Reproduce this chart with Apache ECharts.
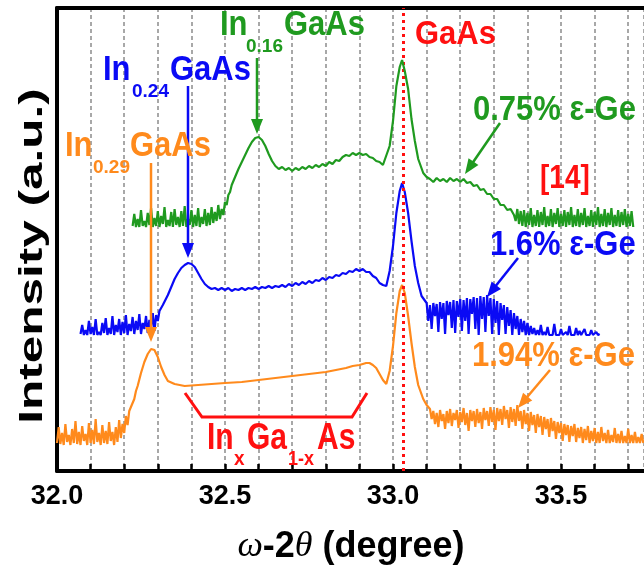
<!DOCTYPE html>
<html><head><meta charset="utf-8">
<script src="https://cdn.jsdelivr.net/npm/echarts@6/dist/echarts.min.js"></script>
<style>html,body{margin:0;padding:0;background:#fff}#c{width:644px;height:572px}</style>
</head><body><div id="c"></div>
<script>
const tickLabels = ['32.0', '32.5', '33.0', '33.5'];
const gaasPosition = 33.027;

const orange = [
[32.000,28],[32.005,44],[32.010,27],[32.015,38],[32.020,26],[32.025,47],[32.030,29],[32.035,36],[32.040,26],[32.045,42],
[32.050,28],[32.055,50],[32.060,27],[32.065,39],[32.070,26],[32.075,45],[32.080,30],[32.085,37],[32.090,26],[32.095,48],
[32.100,28],[32.105,41],[32.110,27],[32.115,52],[32.120,29],[32.125,38],[32.130,26],[32.135,46],[32.140,28],[32.145,40],
[32.150,27],[32.155,49],[32.160,30],[32.165,39],[32.170,26],[32.175,44],[32.180,29],[32.185,51],[32.190,33],[32.195,47],
[32.200,38],[32.205,55],[32.210,46],[32.215,60],[32.22,62],[32.225,68],[32.23,72],[32.235,80],[32.24,85],[32.25,98],
[32.26,109],[32.27,117],[32.28,122],[32.285,123],[32.29,121],[32.30,114],[32.31,104],[32.32,96],[32.33,90],[32.35,87],
[32.38,85],[32.42,86],[32.46,87],[32.50,88],[32.55,89],[32.60,91],[32.65,93],[32.70,95],[32.75,97],[32.80,99],
[32.83,101],[32.86,103],[32.88,105],[32.90,106],[32.92,108],[32.93,108],[32.94,106],[32.95,103],[32.96,97],[32.97,91],
[32.98,87],[32.99,100],[33.00,125],[33.01,158],[33.02,180],[33.027,186],[33.035,178],[33.045,155],[33.055,128],[33.065,104],
[33.075,86],[33.09,72],[33.10,66],[33.11,62],
[33.115,52],[33.12,60],[33.125,47],[33.13,58],[33.135,44],[33.14,61],[33.145,50],[33.15,57],[33.155,42],[33.16,60],
[33.165,48],[33.17,62],[33.175,45],[33.18,58],[33.185,51],[33.19,61],[33.195,43],[33.20,59],[33.205,49],[33.21,63],
[33.215,46],[33.22,58],[33.225,40],[33.23,61],[33.235,50],[33.24,60],[33.245,44],[33.25,62],[33.255,48],[33.26,59],
[33.265,42],[33.27,63],[33.275,51],[33.28,60],[33.285,45],[33.29,64],[33.295,49],[33.30,61],[33.305,41],[33.31,63],
[33.315,50],[33.32,62],[33.325,46],[33.33,65],[33.335,52],[33.34,61],[33.345,43],[33.35,64],[33.355,49],[33.36,62],
[33.365,45],[33.37,66],[33.375,50],[33.38,60],[33.385,42],[33.39,61],[33.395,47],[33.40,58],[33.405,40],[33.41,59],
[33.415,46],[33.42,56],[33.425,38],[33.43,57],[33.435,44],[33.44,55],[33.445,36],[33.45,54],[33.455,42],[33.46,52],
[33.465,34],[33.47,53],[33.475,40],[33.48,50],[33.485,32],[33.49,49],[33.495,38],[33.50,48],[33.505,30],[33.51,47],
[33.515,36],[33.52,46],[33.525,29],[33.53,45],[33.535,35],[33.54,47],[33.545,29],[33.55,43],[33.555,33],[33.56,44],
[33.565,28],[33.57,42],[33.575,31],[33.58,45],[33.585,28],[33.59,40],[33.595,30],[33.60,43],[33.605,28],[33.61,39],
[33.615,28],[33.62,44],[33.625,30],[33.63,38],[33.635,28],[33.64,41],[33.645,28],[33.65,36],[33.655,29],[33.66,43],
[33.665,28],[33.67,37],[33.675,28],[33.68,40],[33.685,28],[33.69,35],[33.695,28],[33.70,42],[33.705,28],[33.71,36],
[33.715,28],[33.72,39],[33.725,28],[33.73,34],[33.735,28],[33.74,37],[33.745,28]
];

const blue = [
[32.07,137],[32.075,146],[32.08,136],[32.085,141],[32.09,136],[32.095,150],[32.10,137],[32.105,144],[32.11,136],[32.115,152],
[32.12,136],[32.125,139],[32.13,136],[32.135,148],[32.14,138],[32.145,153],[32.15,136],[32.155,143],[32.16,137],[32.165,155],
[32.17,136],[32.175,146],[32.18,139],[32.185,152],[32.19,136],[32.195,149],[32.20,138],[32.205,156],[32.21,136],[32.215,147],
[32.22,140],[32.225,154],[32.23,137],[32.235,150],[32.24,141],[32.245,157],[32.25,137],[32.255,148],[32.26,142],[32.265,155],
[32.27,138],[32.275,151],[32.28,143],[32.285,158],[32.29,140],[32.295,156],[32.30,150],[32.305,160],[32.31,158],[32.315,166],
[32.32,166],[32.33,176],[32.34,184],[32.35,192],[32.36,198],[32.37,203],[32.38,206],[32.39,208],[32.40,207],[32.41,204],
[32.42,198],[32.43,192],[32.44,187],[32.45,184],[32.46,182],[32.47,183],[32.48,181],[32.49,183],[32.50,181],[32.51,183],
[32.52,180],[32.53,182],[32.54,181],[32.55,183],[32.56,181],[32.57,183],[32.58,182],[32.59,184],[32.60,182],[32.61,184],
[32.62,183],[32.63,185],[32.64,183],[32.65,185],[32.66,184],[32.67,186],[32.68,184],[32.69,187],[32.70,185],[32.71,188],
[32.72,186],[32.73,189],[32.74,187],[32.75,190],[32.76,188],[32.77,191],[32.78,190],[32.79,193],[32.80,191],[32.81,194],
[32.82,193],[32.83,196],[32.84,195],[32.85,198],[32.86,197],[32.87,200],[32.88,199],[32.89,202],[32.90,200],[32.91,202],
[32.92,199],[32.93,199],[32.94,195],[32.95,193],[32.96,188],[32.97,186],[32.98,185],[32.99,200],[33.00,225],[33.01,258],
[33.02,280],[33.027,288],[33.035,279],[33.045,258],[33.055,230],[33.065,205],[33.075,188],[33.085,175],[33.10,168],
[33.105,150],[33.11,166],[33.115,142],[33.12,168],[33.125,155],[33.13,167],[33.135,139],[33.14,169],[33.145,152],[33.15,168],
[33.155,137],[33.16,170],[33.165,156],[33.17,169],[33.175,143],[33.18,171],[33.185,138],[33.19,170],[33.195,154],[33.20,172],
[33.205,140],[33.21,171],[33.215,150],[33.22,173],[33.225,137],[33.23,172],[33.235,157],[33.24,174],[33.245,142],[33.25,173],
[33.255,136],[33.26,175],[33.265,152],[33.27,174],[33.275,139],[33.28,176],[33.285,155],[33.29,173],[33.295,137],[33.30,172],
[33.305,148],[33.31,170],[33.315,136],[33.32,168],[33.325,151],[33.33,166],[33.335,137],[33.34,164],[33.345,145],[33.35,161],
[33.355,136],[33.36,158],[33.365,142],[33.37,155],[33.375,136],[33.38,152],[33.385,139],[33.39,150],[33.395,136],[33.40,148],
[33.405,136],[33.41,145],[33.415,137],[33.42,143],[33.425,136],[33.43,141],[33.435,136],[33.44,146],[33.445,136],[33.45,139],
[33.455,136],[33.46,144],[33.465,136],[33.47,138],[33.475,136],[33.48,147],[33.485,136],[33.49,137],[33.495,136],[33.50,142],
[33.505,136],[33.51,136],[33.515,139],[33.52,136],[33.525,145],[33.53,136],[33.535,137],[33.54,136],[33.545,143],[33.55,136],
[33.555,140],[33.56,136],[33.565,136],[33.57,142],[33.575,136],[33.58,138],[33.585,136],[33.59,141],[33.595,136],[33.60,136],
[33.605,139],[33.61,136],[33.615,137]
];

const green = [
[32.225,245],[32.23,257],[32.235,244],[32.24,252],[32.245,244],[32.25,261],[32.255,245],[32.26,250],[32.265,244],[32.27,258],
[32.275,246],[32.28,263],[32.285,244],[32.29,253],[32.295,245],[32.30,260],[32.305,244],[32.31,255],[32.315,247],[32.32,264],
[32.325,244],[32.33,251],[32.335,245],[32.34,259],[32.345,244],[32.35,262],[32.355,246],[32.36,254],[32.365,244],[32.37,260],
[32.375,245],[32.38,265],[32.385,244],[32.39,252],[32.395,246],[32.40,261],[32.405,244],[32.41,256],[32.415,245],[32.42,263],
[32.425,244],[32.43,254],[32.435,247],[32.44,262],[32.445,245],[32.45,258],[32.455,246],[32.46,264],[32.465,248],[32.47,259],
[32.475,250],[32.48,266],[32.485,252],[32.49,262],[32.495,256],[32.50,269],[32.505,266],[32.51,276],[32.515,279],[32.52,286],
[32.53,294],[32.54,302],[32.55,309],[32.56,316],[32.57,323],[32.58,329],[32.59,333],[32.60,334],[32.61,331],[32.62,325],
[32.63,317],[32.64,310],[32.65,305],[32.66,302],[32.67,304],[32.68,301],[32.69,303],[32.70,300],[32.71,303],[32.72,301],
[32.73,304],[32.74,302],[32.75,305],[32.76,303],[32.77,306],[32.78,304],[32.79,307],[32.80,305],[32.81,309],[32.82,307],
[32.83,311],[32.84,310],[32.85,314],[32.86,316],[32.87,315],[32.88,318],[32.89,316],[32.90,318],[32.91,316],[32.92,317],
[32.93,314],[32.94,313],[32.95,310],[32.96,309],[32.97,306],[32.975,307],[32.99,325],[33.00,350],[33.01,385],[33.02,404],
[33.027,411],[33.035,400],[33.045,382],[33.055,352],[33.065,330],[33.075,312],[33.09,298],[33.10,294],[33.11,292],[33.12,289],
[33.13,293],[33.14,290],[33.15,292],[33.16,289],[33.17,293],[33.18,290],[33.19,292],[33.20,289],[33.21,292],[33.22,288],
[33.23,289],[33.24,285],[33.25,286],[33.26,281],[33.27,282],[33.28,277],[33.29,277],[33.30,272],[33.31,272],[33.32,266],
[33.33,266],[33.34,261],[33.35,262],[33.36,256],
[33.365,250],[33.37,262],[33.375,247],[33.38,260],[33.385,245],[33.39,261],[33.395,244],[33.40,258],[33.405,246],[33.41,263],
[33.415,244],[33.42,256],[33.425,245],[33.43,261],[33.435,244],[33.44,259],[33.445,246],[33.45,264],[33.455,244],[33.46,255],
[33.465,245],[33.47,262],[33.475,244],[33.48,258],[33.485,247],[33.49,263],[33.495,244],[33.50,257],[33.505,245],[33.51,261],
[33.515,244],[33.52,259],[33.525,246],[33.53,264],[33.535,244],[33.54,256],[33.545,245],[33.55,262],[33.555,244],[33.56,258],
[33.565,246],[33.57,263],[33.575,244],[33.58,255],[33.585,245],[33.59,261],[33.595,244],[33.60,259],[33.605,246],[33.61,264],
[33.615,244],[33.62,257],[33.625,245],[33.63,262],[33.635,244],[33.64,258],[33.645,246],[33.65,263],[33.655,244],[33.66,256],
[33.665,245],[33.67,261],[33.675,244],[33.68,259],[33.685,246],[33.69,262],[33.695,244],[33.70,257],[33.705,245],[33.71,260],
[33.715,244]
];

const C_GREEN = '#1f9a1f', C_BLUE = '#0a0af5', C_ORANGE = '#ff8a1c', C_RED = '#ff1010';
const SANS = '"Liberation Sans", Arial, sans-serif';

function T(text, left, cy, size, color, sy) {
  return { type: 'text', x: left, y: cy, scaleY: sy || 1, z: 100,
    style: { text: text, x: 0, y: 0, fill: color, font: 'bold ' + size + 'px ' + SANS,
      align: 'left', verticalAlign: 'middle', textAlign: 'left', textVerticalAlign: 'middle' } };
}
function arrow(x1, y1, x2, y2, color) {
  const dx = x2 - x1, dy = y2 - y1, L = Math.hypot(dx, dy), ux = dx / L, uy = dy / L;
  const hl = 15, hw = 6;
  const bx = x2 - ux * hl, by = y2 - uy * hl;
  return [
    { type: 'line', z: 100, shape: { x1: x1, y1: y1, x2: bx + ux * 2, y2: by + uy * 2 }, style: { stroke: color, lineWidth: 2.5 } },
    { type: 'polygon', z: 100, shape: { points: [[x2, y2], [bx - uy * hw, by + ux * hw], [bx + uy * hw, by - ux * hw]] }, style: { fill: color } }
  ];
}

const graphics = [].concat(
  [T('In', 220, 25, 31, C_GREEN, 1.12), T('0.16', 246, 47, 19, C_GREEN, 1), T('GaAs', 284, 25, 31, C_GREEN, 1.12)],
  arrow(257, 58, 257, 134, C_GREEN),
  [T('In', 103, 70, 31, C_BLUE, 1.12), T('0.24', 132, 92, 19, C_BLUE, 1), T('GaAs', 170, 70, 31, C_BLUE, 1.12)],
  arrow(188, 86, 188, 258, C_BLUE),
  [T('In', 65, 146, 31, C_ORANGE, 1.12), T('0.29', 93, 168, 19, C_ORANGE, 1), T('GaAs', 130, 146, 31, C_ORANGE, 1.12)],
  arrow(151, 163, 151, 342, C_ORANGE),
  [T('GaAs', 415, 35, 31, C_RED, 1.1)],
  [T('0.75% \u03b5-Ge', 473, 110, 31, C_GREEN, 1.12)],
  arrow(500, 123, 465, 174, C_GREEN),
  [T('[14]', 540, 179, 28, C_RED, 1.2)],
  [T('1.6% \u03b5-Ge', 490, 245, 31, C_BLUE, 1.12)],
  arrow(518, 258, 487, 297, C_BLUE),
  [T('1.94% \u03b5-Ge', 472, 356, 31, C_ORANGE, 1.12)],
  arrow(550, 370, 518, 408, C_ORANGE),
  [{ type: 'polyline', z: 100, shape: { points: [[185, 393], [202, 417], [352, 417], [367, 393]] },
     style: { stroke: C_RED, lineWidth: 3, fill: null } }],
  [T('In', 207, 439, 30, C_RED, 1.2), T('x', 234, 459, 19, C_RED, 1.1), T('Ga', 247, 439, 30, C_RED, 1.2),
   T('1-x', 288, 460, 18, C_RED, 1.1), T('As', 317, 439, 30, C_RED, 1.2)],
  [{ type: 'text', x: 33, y: 256, rotation: Math.PI / 2, scaleX: 1.5, z: 100,
     style: { text: 'Intensity (a.u.)', x: 0, y: 0, fill: '#000', font: 'bold 33px ' + SANS,
       align: 'center', verticalAlign: 'middle', textAlign: 'center', textVerticalAlign: 'middle' } }],
  [{ type: 'text', x: 351, y: 547, z: 100,
     style: { text: '{w|\u03c9}{b|-2}{w|\u03b8}{b| (degree)}', x: 0, y: 0, fill: '#000',
       align: 'center', verticalAlign: 'middle', textAlign: 'center', textVerticalAlign: 'middle',
       rich: {
         w: { fontFamily: '"Liberation Serif", "DejaVu Serif", serif', fontStyle: 'italic', fontSize: 36, fill: '#000' },
         b: { fontFamily: SANS, fontWeight: 'bold', fontSize: 36, fill: '#000' }
       } } }]
);

const chart = echarts.init(document.getElementById('c'), null, { renderer: 'canvas' });
chart.setOption({
  animation: false,
  backgroundColor: '#fff',
  grid: { left: 57, right: 0, top: 8, bottom: 101, containLabel: false, outerBoundsMode: 'none' },
  xAxis: [{
    type: 'value', min: 32.0, max: 33.747, interval: 0.1, position: 'bottom',
    axisLine: { show: true, onZero: false, lineStyle: { color: '#000', width: 4 } },
    axisTick: { show: true, inside: true, length: 7, lineStyle: { color: '#000', width: 2.5 } },
    axisLabel: { show: true, margin: 12, color: '#000', fontSize: 27, fontWeight: 'bold', fontFamily: SANS,
      showMaxLabel: false,
      formatter: function (v) { const s = (Math.round(v * 10) / 10).toFixed(1); return tickLabels.indexOf(s) >= 0 ? s : ''; } },
    splitLine: { show: true, lineStyle: { color: '#8c8c8c', width: 1.5, type: [4, 3] } }
  }, {
    type: 'value', min: 32.0, max: 33.747, position: 'top',
    axisLine: { show: true, onZero: false, lineStyle: { color: '#000', width: 4 } },
    axisTick: { show: false }, axisLabel: { show: false }, splitLine: { show: false }
  }],
  yAxis: {
    type: 'value', min: 0, max: 463,
    axisLine: { show: true, onZero: false, lineStyle: { color: '#000', width: 4 } },
    axisTick: { show: false }, axisLabel: { show: false }, splitLine: { show: false }
  },
  series: [
    { type: 'line', name: '1.94%', data: orange, showSymbol: false, lineStyle: { color: C_ORANGE, width: 2.2 }, z: 3 },
    { type: 'line', name: '1.6%', data: blue, showSymbol: false, lineStyle: { color: C_BLUE, width: 2.2 }, z: 4 },
    { type: 'line', name: '0.75%', data: green, showSymbol: false, lineStyle: { color: C_GREEN, width: 2.2 }, z: 5 },
    { type: 'line', name: 'GaAs', data: [], z: 6,
      markLine: { silent: true, symbol: ['none', 'none'], label: { show: false },
        lineStyle: { color: C_RED, width: 3, type: [3, 4] },
        data: [{ xAxis: gaasPosition }] } }
  ],
  graphic: graphics
});
</script>
</body></html>
